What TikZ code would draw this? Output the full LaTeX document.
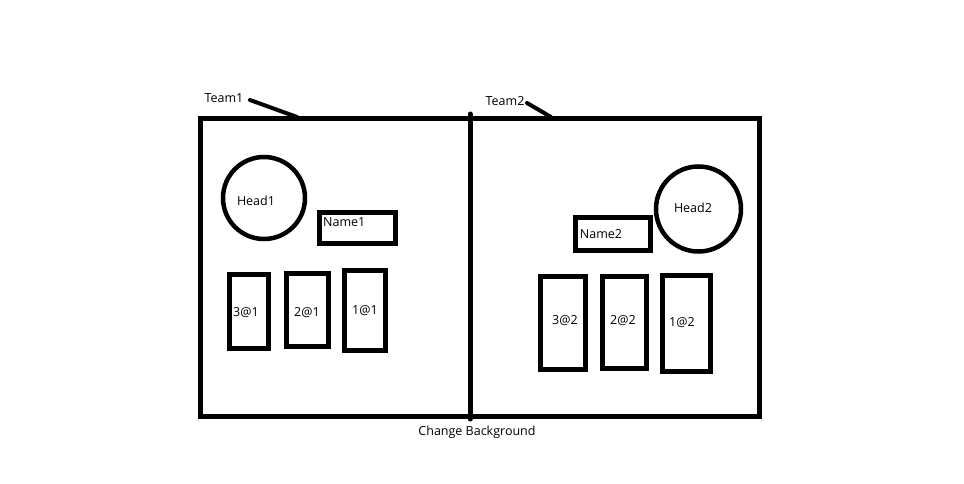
\documentclass[tikz,border=0pt]{standalone}
\usepackage{fontspec}
\setmainfont{Open Sans}
\begin{document}
\begin{tikzpicture}[x=1pt,y=-1pt,
  frame/.style={draw=black, line width=5pt, inner sep=0pt, fill=none},
  slotbox/.style={draw=black, line width=5pt, inner sep=0pt},
  headcirc/.style={draw=black, line width=4.5pt, circle, inner sep=0pt},
  lbl/.style={font=\fontsize{12.5}{14}\selectfont, inner sep=0pt, text=black, text height=9pt, text depth=0pt},
  leader/.style={draw=black, line width=4pt, line cap=round}]
\fill[white] (0,0) rectangle (964,484);
\useasboundingbox (0,0) rectangle (964,484);
% outer frame
\node[frame, minimum width=559pt, minimum height=297.5pt] (outer) at (480,267.25) {};
\coordinate (dtop) at (470,114);
\coordinate (dbot) at (470,419);
\draw[black, line width=5pt, line cap=round] (dtop) -- (dbot);
% team labels
\node[lbl] (team1) at (224,98) {Team1};
\node[lbl] (team2) at (505,101) {Team2};
\coordinate (t1a) at (250,100);
\coordinate (t1b) at (297,117);
\coordinate (t2a) at (527,103);
\coordinate (t2b) at (551,117);
\draw[leader] (t1a) -- (t1b);
\draw[leader] (t2a) -- (t2b);
% heads
\node[headcirc, minimum size=82pt] (head1) at (264,198) {};
\node[headcirc, minimum size=85pt] (head2) at (698.5,209) {};
% name boxes
\node[slotbox, minimum width=76pt, minimum height=31pt] (name1) at (357,227.5) {};
\node[slotbox, minimum width=75pt, minimum height=33pt] (name2) at (612.5,233.5) {};
% slots team 1
\node[slotbox, minimum width=39pt, minimum height=74pt] (s31) at (248.5,311) {};
\node[slotbox, minimum width=42pt, minimum height=73pt] (s21) at (307,309.5) {};
\node[slotbox, minimum width=41pt, minimum height=80pt] (s11) at (364.5,310) {};
% slots team 2
\node[slotbox, minimum width=45pt, minimum height=93pt] (s32) at (562.5,322.5) {};
\node[slotbox, minimum width=44pt, minimum height=92pt] (s22) at (624,322) {};
\node[slotbox, minimum width=48pt, minimum height=96pt] (s12) at (686,323) {};
% texts
\node[lbl] (head1t) at (256,201) {Head1};
\node[lbl] (head2t) at (693,208) {Head2};
\node[lbl, anchor=west] (name1t) at (323,222) {Name1};
\node[lbl] (name2t) at (601,234) {Name2};
\node[lbl] (s31t) at (246,312) {3@1};
\node[lbl] (s21t) at (307,312) {2@1};
\node[lbl] (s11t) at (365,310) {1@1};
\node[lbl] (s32t) at (565,320) {3@2};
\node[lbl] (s22t) at (623,320) {2@2};
\node[lbl] (s12t) at (682,322) {1@2};
\node[lbl] (bg) at (477,431) {Change Background};
\end{tikzpicture}
\end{document}
